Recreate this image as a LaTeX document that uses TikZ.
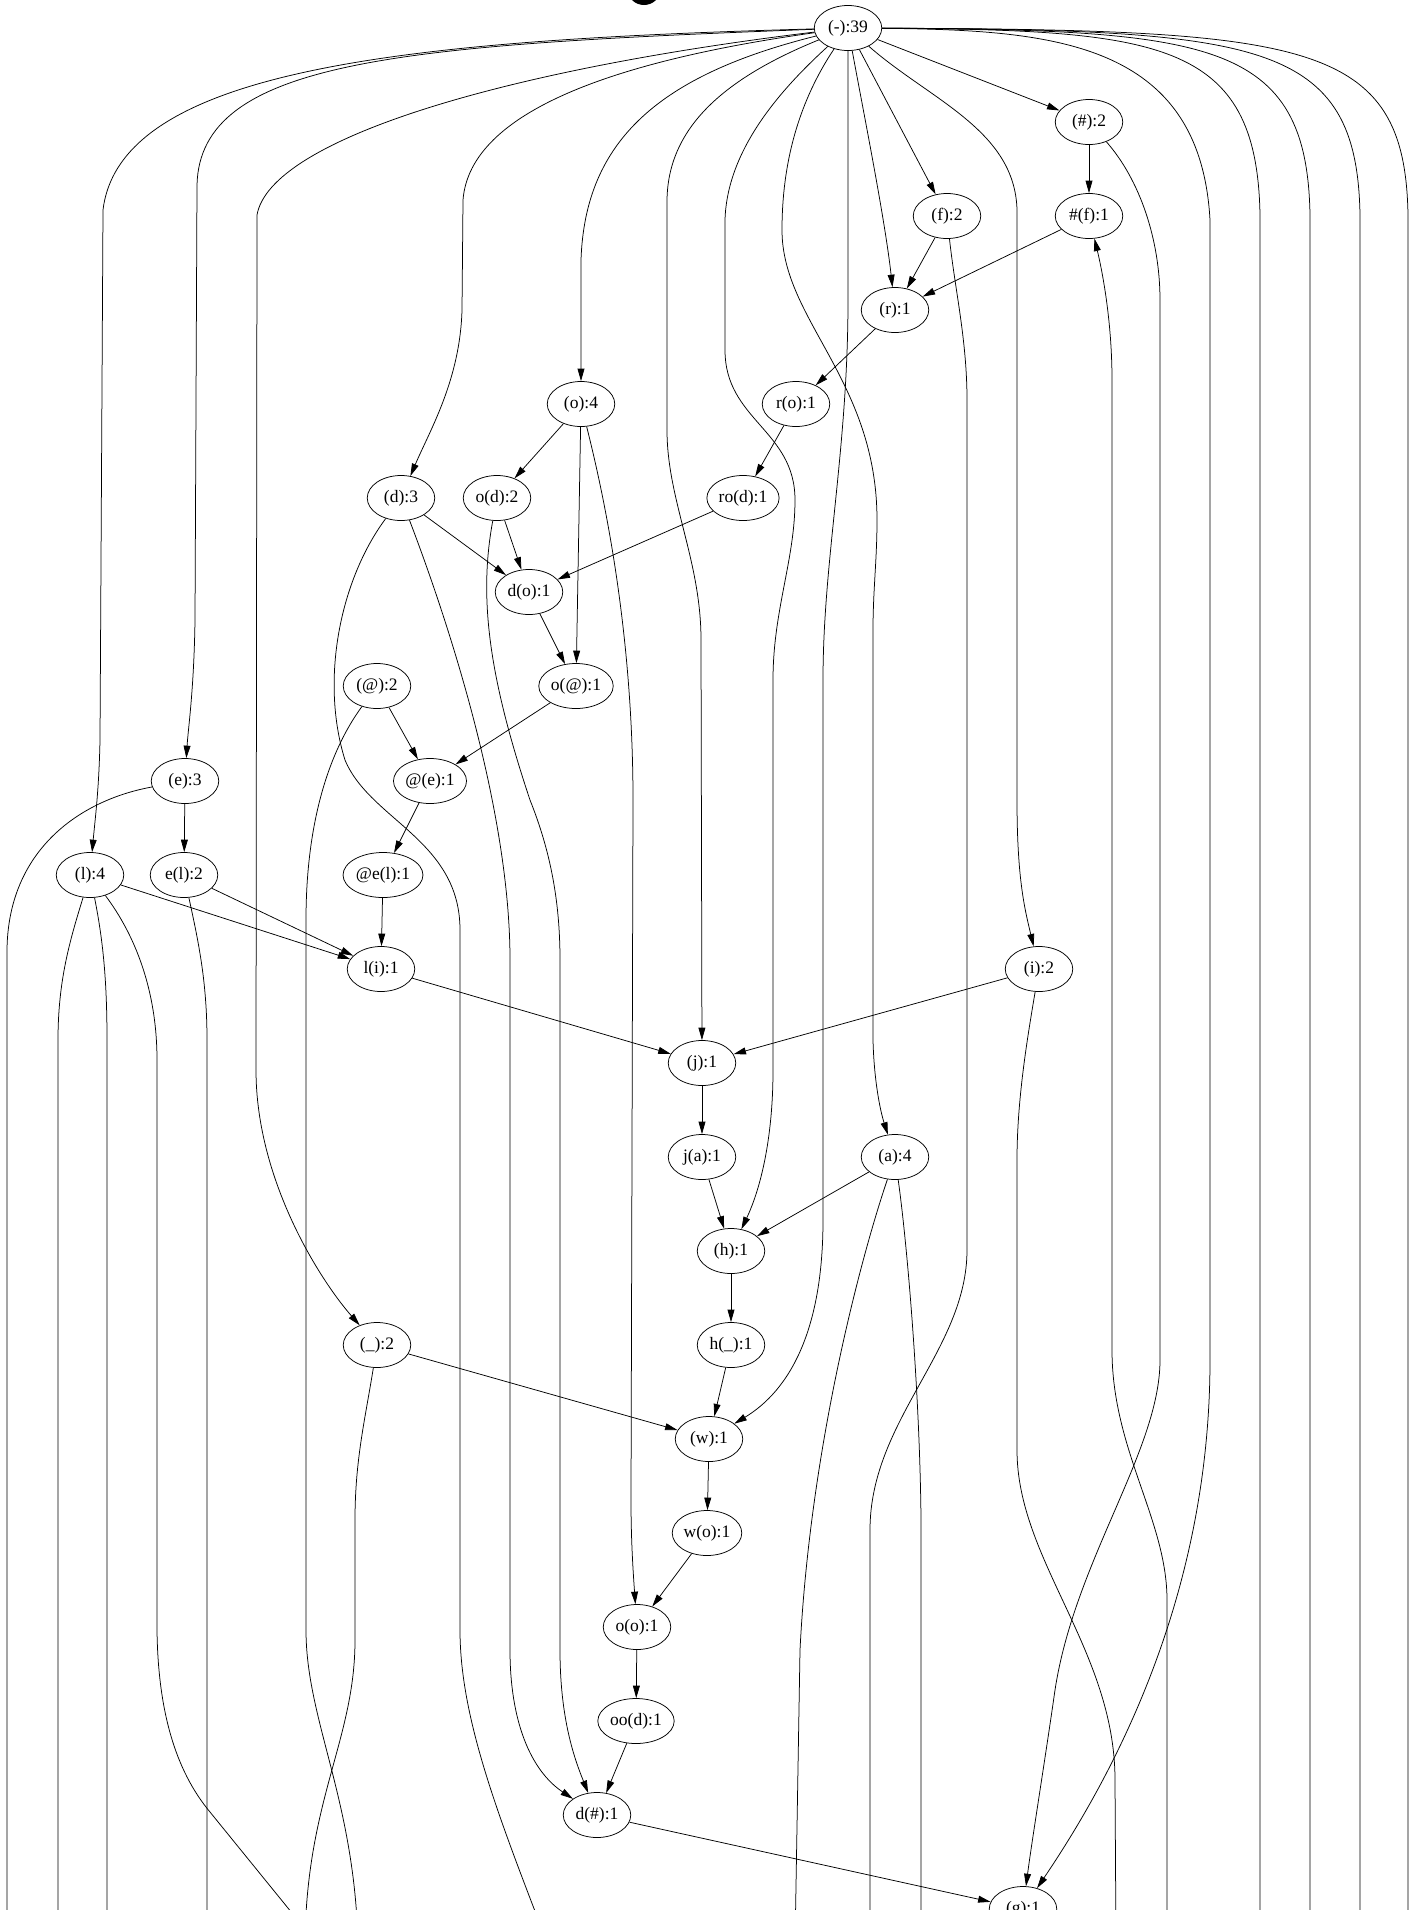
\documentclass[tikz,border=0pt]{standalone}
\usepackage{fontspec}
\setmainfont{Liberation Serif}
\usetikzlibrary{shapes.geometric, arrows.meta}

\begin{document}
\begin{tikzpicture}[x=0.8pt, y=-0.8pt,
    vertex/.style={ellipse, draw, line width=0.6pt, minimum width=54pt,
                   minimum height=36pt, inner sep=1pt,
                   font=\fontsize{14}{16}\selectfont},
    line/.style={draw, line width=0.6pt},
    edge/.style={line, -{Triangle[length=10pt, width=5.5pt]}},
]
\useasboundingbox (0,0) rectangle (1418,1910);
\fill[white] (0,0) rectangle (1418,1910);
\clip (0,0) rectangle (1418,1910);

%% Title (only its lower tip shows)
\fill (644,-12) circle[radius=17];

%% Nodes
\foreach \n/\x/\y/\t in {
  root/848/28/{(-):39}, hsh/1089/122/{(\#):2}, f/947/216/{(f):2},
  hshf/1089/216/{\#(f):1}, r/895/310/{(r):1}, o/581/404/{(o):4},
  ro/796/404/{r(o):1}, d/401/498/{(d):3}, od/497/498/{o(d):2},
  rod/743/498/{ro(d):1}, dO/529/592/{d(o):1}, atg/377/686/{(@):2},
  oat/576/686/{o(@):1}, e/185/781/{(e):3}, ate/430/781/{@(e):1},
  l/90/875/{(l):4}, el/184/875/{e(l):2}, atel/383/875/{@e(l):1},
  li/381/969/{l(i):1}, i/1039/969/{(i):2}, j/702/1063/{(j):1},
  ja/702/1157/{j(a):1}, a/895/1157/{(a):4}, h/731/1251/{(h):1},
  us/377/1345/{(\_):2}, hus/731/1345/{h(\_):1}, w/709/1439/{(w):1},
  wo/707/1533/{w(o):1}, oo/637/1627/{o(o):1}, ood/636/1721/{oo(d):1},
  dhsh/597/1815/{d(\#):1}, g/1023/1909/{(g):1}}
  \node[vertex] (\n) at (\x,\y) {\t};

%% Ends of the edges that leave the picture at the bottom
\foreach \c/\x in {cutE/7, cutLa/58, cutLb/107, cutLc/318, cutEl/207,
                   cutUs/305, cutAt/358, cutD/548, cutAa/795, cutF/870,
                   cutAb/921, cutI/1116, cutHf/1167}
  \coordinate (\c) at (\x,1945);

%% Short edges
\foreach \s/\t in {root/hsh, root/f, hsh/hshf, f/r, hshf/r, r/ro, ro/rod,
                   o/od, o/oat, d/dO, od/dO, rod/dO, dO/oat, atg/ate,
                   oat/ate, ate/atel, atel/li, e/el, l/li, el/li, li/j,
                   i/j, j/ja, ja/h, a/h, h/hus, hus/w, us/w, w/wo, wo/oo,
                   oo/ood, ood/dhsh, dhsh/g}
  \draw[edge] (\s) -- (\t);

%% Long edges from the root
\draw[edge] (root) .. controls (400,40) and (120,70) .. (103,210) -- (100,740)
  .. controls (99,790) and (95,820) .. (l);
\draw[edge] (root) .. controls (400,45) and (200,60) .. (197,185) -- (195,620)
  .. controls (194,690) and (188,730) .. (e);
\draw[edge] (root) .. controls (500,70) and (270,140) .. (257,215) -- (256,1070)
  .. controls (256,1180) and (320,1280) .. (us);
\draw[edge] (root) .. controls (620,60) and (470,110) .. (463,200) -- (462,310)
  .. controls (460,380) and (430,430) .. (d);
\draw[edge] (root) .. controls (660,75) and (585,140) .. (581,260) -- (o);
\draw[edge] (root) .. controls (720,80) and (668,130) .. (667,200) -- (667,430)
  .. controls (667,500) and (701,560) .. (701,640) -- (j);
\draw[edge] (root) .. controls (780,90) and (727,150) .. (725,220) -- (725,350)
  .. controls (725,420) and (795,430) .. (795,500)
  .. controls (795,560) and (773,610) .. (773,680) -- (773,1070)
  .. controls (773,1140) and (760,1190) .. (h);
\draw[edge] (root) .. controls (800,100) and (782,160) .. (782,230)
  .. controls (782,320) and (877,380) .. (877,520)
  .. controls (877,560) and (873,590) .. (873,630) -- (873,1040)
  .. controls (874,1080) and (880,1110) .. (a);
\draw[edge] (root) -- (848,300) .. controls (848,450) and (823,560) .. (823,680)
  -- (823,1220) .. controls (823,1330) and (790,1390) .. (w);
\draw[edge] (root) .. controls (865,120) and (885,220) .. (r);
\draw[edge] (root) .. controls (930,100) and (1015,130) .. (1017,210) -- (1017,800)
  .. controls (1017,880) and (1025,910) .. (i);
\draw[edge] (root) .. controls (1050,30) and (1200,40) .. (1210,220) -- (1210,1360)
  .. controls (1210,1600) and (1110,1780) .. (g);
\foreach \x in {1260,1310,1360,1408} {
  \coordinate (cut\x) at (\x,1945);
  \draw[line] (root) .. controls ({\x-100},30) and ({\x-3},40) .. (\x,215) -- (cut\x);
}

%% Other long edges
\draw[edge] (o) .. controls (600,480) and (633,620) .. (633,800) -- (631,1500)
  .. controls (631,1540) and (633,1570) .. (oo);
\draw[edge] (d) .. controls (440,600) and (510,800) .. (510,960) -- (510,1650)
  .. controls (510,1720) and (530,1770) .. (dhsh);
\draw[edge] (od) .. controls (478,600) and (490,680) .. (530,800)
  .. controls (550,850) and (560,900) .. (560,960) -- (560,1650)
  .. controls (560,1720) and (575,1760) .. (dhsh);
\draw[edge] (hsh) .. controls (1140,180) and (1160,240) .. (1160,300) -- (1160,1360)
  .. controls (1160,1450) and (1075,1560) .. (1055,1690)
  .. controls (1045,1760) and (1032,1840) .. (g);
\draw[edge] (cutHf) -- (1167,1600) .. controls (1167,1520) and (1112,1450) .. (1112,1350)
  -- (1112,380) .. controls (1112,320) and (1102,270) .. (hshf);

%% Edges running off the bottom
\draw[line] (e) .. controls (80,800) and (8,850) .. (7,950) -- (cutE);
\draw[line] (l) .. controls (70,940) and (58,980) .. (58,1040) -- (cutLa);
\draw[line] (l) .. controls (103,940) and (107,980) .. (107,1040) -- (cutLb);
\draw[line] (l) .. controls (135,935) and (157,990) .. (157,1060) -- (157,1630)
  .. controls (158,1710) and (175,1770) .. (210,1812) -- (cutLc);
\draw[line] (el) .. controls (198,940) and (207,980) .. (207,1040) -- (cutEl);
\draw[line] (atg) .. controls (330,750) and (306,820) .. (306,920) -- (306,1630)
  .. controls (306,1720) and (355,1800) .. (cutAt);
\draw[line] (us) .. controls (365,1420) and (355,1460) .. (355,1520) -- (355,1640)
  .. controls (355,1740) and (306,1800) .. (cutUs);
\draw[line] (d) .. controls (340,580) and (320,680) .. (345,760)
  .. controls (370,820) and (460,840) .. (460,930) -- (460,1630)
  .. controls (460,1720) and (500,1820) .. (cutD);
\draw[line] (f) .. controls (955,290) and (967,340) .. (967,400) -- (967,1250)
  .. controls (967,1350) and (870,1420) .. (870,1530) -- (cutF);
\draw[line] (i) .. controls (1027,1040) and (1017,1100) .. (1017,1160) -- (1017,1450)
  .. controls (1017,1560) and (1115,1650) .. (1115,1780) -- (cutI);
\draw[line] (a) .. controls (860,1260) and (810,1450) .. (800,1650) -- (cutAa);
\draw[line] (a) .. controls (908,1250) and (920,1400) .. (921,1520) -- (cutAb);
\end{tikzpicture}
\end{document}
